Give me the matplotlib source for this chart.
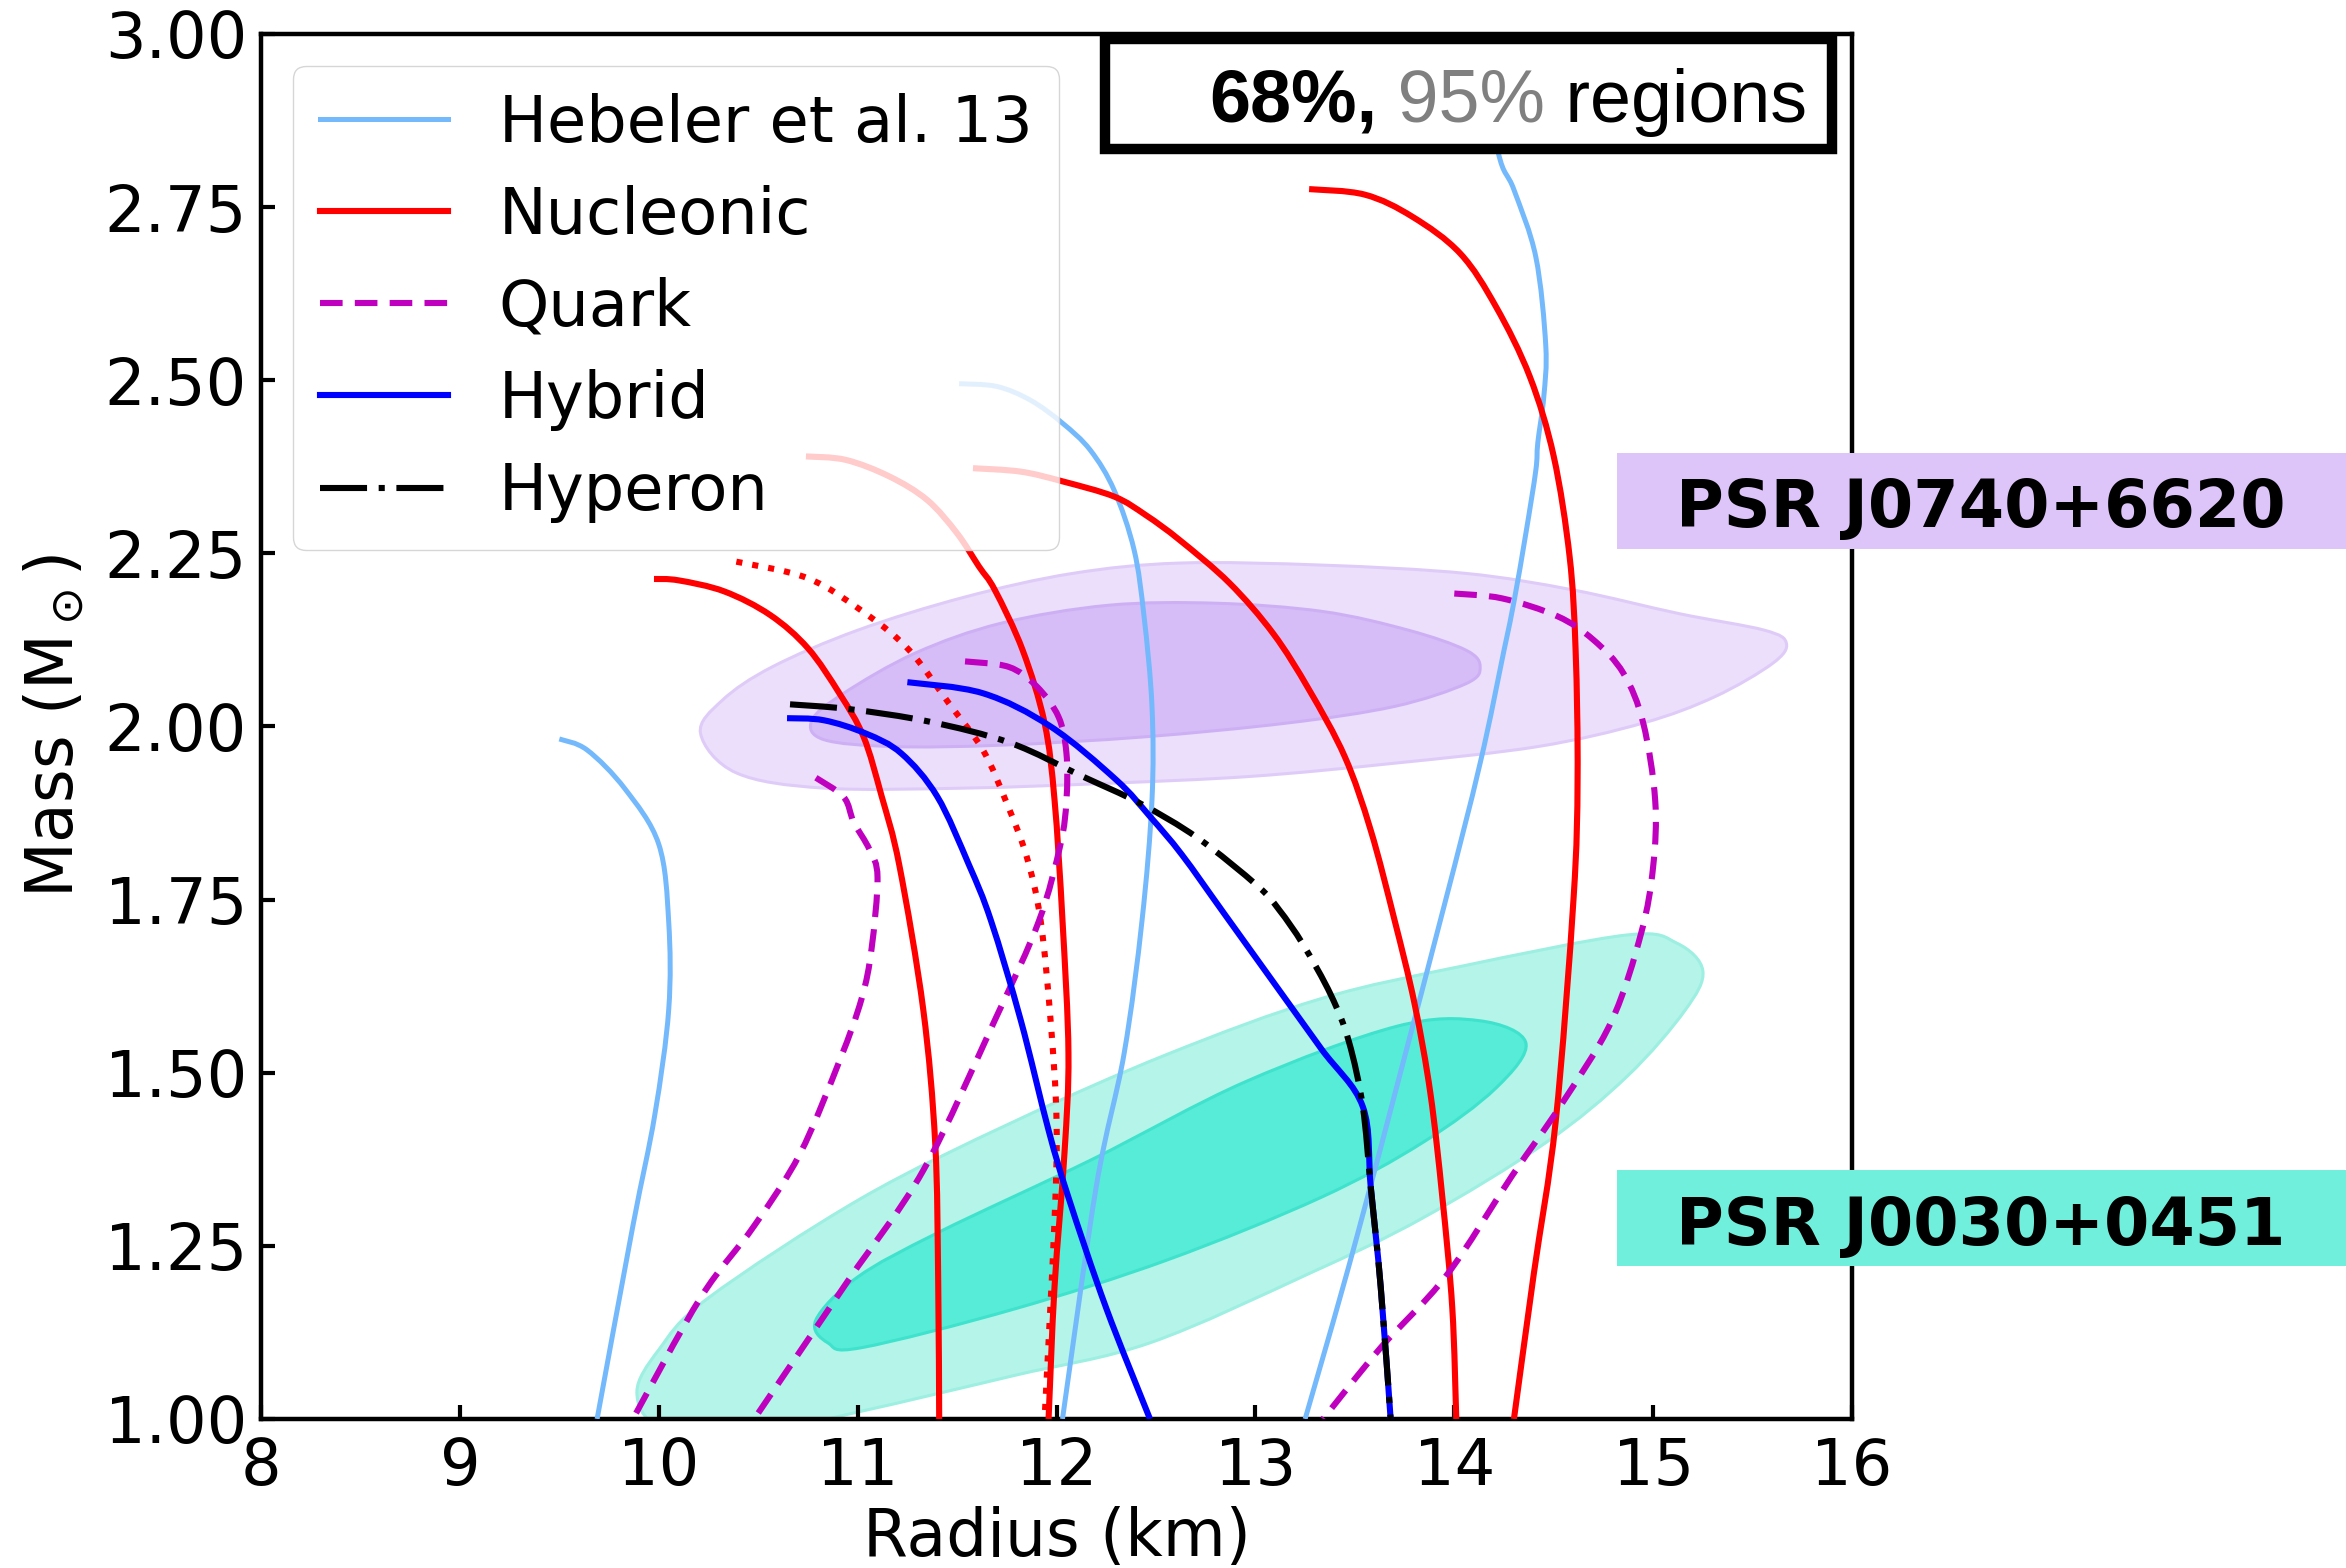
import numpy as np
import matplotlib
matplotlib.use("Agg")
import matplotlib.pyplot as plt
from matplotlib.patches import PathPatch, Rectangle
from matplotlib.path import Path
from matplotlib.lines import Line2D

# ---------------- mass-radius curves (R in km, M in solar masses) ----------------
hebeler_a_R = [9.50, 9.64, 9.83, 10.00, 10.05, 10.05, 9.98, 9.87, 9.69]
hebeler_a_M = [1.982, 1.966, 1.910, 1.830, 1.718, 1.591, 1.439, 1.279, 1.000]

hebeler_b_R = [11.51, 11.70, 11.87, 12.03, 12.17, 12.29, 12.39, 12.44, 12.48, 12.48, 12.43, 12.34, 12.20, 12.03]
hebeler_b_M = [2.495, 2.491, 2.471, 2.438, 2.399, 2.341, 2.255, 2.159, 2.029, 1.894, 1.720, 1.528, 1.336, 1.000]

hebeler_c_R = [13.25, 13.51, 13.93, 14.13, 14.25, 14.30, 14.36, 14.41, 14.42, 14.45, 14.46, 14.41, 14.30, 14.22, 14.12]
hebeler_c_M = [1.000, 1.263, 1.720, 1.947, 2.110, 2.180, 2.279, 2.370, 2.410, 2.476, 2.550, 2.678, 2.775, 2.830, 3.000]

nucleonic_a_R = [9.976, 10.10, 10.33, 10.56, 10.75, 10.91, 11.03, 11.12, 11.21, 11.33, 11.39, 11.405, 11.41]
nucleonic_a_M = [2.213, 2.211, 2.195, 2.161, 2.113, 2.047, 1.985, 1.900, 1.799, 1.591, 1.399, 1.200, 1.000]

nucleonic_b_R = [10.74, 10.94, 11.16, 11.35, 11.50, 11.61, 11.69, 11.83, 11.94, 11.99, 12.03, 12.06, 12.04, 11.99, 11.96]
nucleonic_b_M = [2.390, 2.385, 2.361, 2.327, 2.279, 2.231, 2.197, 2.110, 2.005, 1.894, 1.720, 1.528, 1.384, 1.191, 1.000]

nucleonic_c_R = [10.39, 10.75, 11.04, 11.26, 11.46, 11.63, 11.75, 11.85, 11.92, 11.97, 12.00, 11.99, 11.94]
nucleonic_c_M = [2.238, 2.214, 2.163, 2.110, 2.033, 1.966, 1.889, 1.812, 1.720, 1.576, 1.432, 1.287, 1.000]

nucleonic_d_R = [11.58, 11.82, 12.03, 12.29, 12.45, 12.62, 12.87, 13.09, 13.27, 13.45, 13.58, 13.70, 13.80, 13.88, 13.94, 13.99, 14.01]
nucleonic_d_M = [2.373, 2.368, 2.354, 2.332, 2.305, 2.269, 2.207, 2.134, 2.053, 1.956, 1.850, 1.720, 1.600, 1.470, 1.320, 1.160, 1.000]

nucleonic_e_R = [13.27, 13.55, 13.79, 14.03, 14.21, 14.38, 14.50, 14.58, 14.61, 14.62, 14.60, 14.51, 14.40, 14.30]
nucleonic_e_M = [2.776, 2.768, 2.736, 2.683, 2.606, 2.505, 2.390, 2.245, 2.110, 1.926, 1.753, 1.430, 1.210, 1.000]

quark_a_R = [10.79, 10.93, 10.98, 11.06, 11.10, 11.07, 11.02, 10.91, 10.71, 10.48, 10.21, 9.87]
quark_a_M = [1.926, 1.898, 1.862, 1.822, 1.782, 1.679, 1.607, 1.518, 1.383, 1.279, 1.175, 1.000]

quark_b_R = [11.54, 11.76, 11.90, 12.01, 12.05, 12.05, 12.02, 11.91, 11.69, 11.33, 10.95, 10.48]
quark_b_M = [2.094, 2.086, 2.058, 2.014, 1.961, 1.894, 1.830, 1.718, 1.576, 1.359, 1.199, 1.000]

quark_c_R = [14.00, 14.24, 14.52, 14.70, 14.85, 14.95, 15.01, 15.00, 14.94, 14.79, 14.54, 14.29, 13.96, 13.63, 13.34]
quark_c_M = [2.192, 2.185, 2.159, 2.125, 2.077, 2.005, 1.894, 1.798, 1.702, 1.574, 1.455, 1.351, 1.207, 1.103, 1.000]

hybrid_a_R = [10.645, 10.83, 11.04, 11.22, 11.40, 11.56, 11.67, 11.82, 11.96, 12.06, 12.25, 12.47]
hybrid_a_M = [2.012, 2.009, 1.990, 1.961, 1.899, 1.800, 1.720, 1.576, 1.417, 1.320, 1.160, 1.000]

hybrid_b_R = [11.25, 11.63, 11.97, 12.30, 12.47, 12.63, 12.84, 13.07, 13.33, 13.54, 13.58, 13.63, 13.68]
hybrid_b_M = [2.064, 2.048, 2.000, 1.923, 1.870, 1.815, 1.731, 1.639, 1.535, 1.451, 1.335, 1.191, 1.000]

hyperon_R = [10.66, 10.96, 11.36, 11.77, 12.13, 12.42, 12.71, 13.01, 13.12, 13.24, 13.38, 13.47, 13.54, 13.58, 13.63, 13.68]
hyperon_M = [2.032, 2.025, 2.007, 1.976, 1.928, 1.889, 1.839, 1.770, 1.735, 1.685, 1.612, 1.545, 1.451, 1.335, 1.191, 1.000]

# ---------------- credible regions (boundary points, R in km, M in solar masses) ----------------
j0740_95_R = [10.21, 10.32, 10.57, 11.00, 11.54, 12.08, 12.62, 13.34, 14.06, 14.60, 15.13, 15.56, 15.67,
              15.60, 15.31, 14.95, 14.42, 13.70, 12.98, 12.26, 11.54, 10.83, 10.39]
j0740_95_M = [1.990, 2.038, 2.086, 2.139, 2.187, 2.221, 2.236, 2.233, 2.221, 2.197, 2.163, 2.139, 2.120,
              2.091, 2.043, 2.005, 1.971, 1.947, 1.928, 1.918, 1.911, 1.911, 1.933]
j0740_68_R = [10.77, 10.93, 11.29, 11.72, 12.26, 12.80, 13.34, 13.77, 14.06, 14.13, 14.06, 13.70, 13.16,
              12.44, 11.72, 11.18, 10.83]
j0740_68_M = [2.009, 2.048, 2.106, 2.149, 2.175, 2.178, 2.166, 2.139, 2.110, 2.086, 2.062, 2.029, 2.005,
              1.985, 1.973, 1.971, 1.981]

j0030_95_R = [9.89, 10.00, 10.25, 11.02, 11.79, 12.56, 13.33, 14.04, 14.87, 15.12, 15.25, 15.16,
              14.87, 14.46, 13.84, 13.27, 12.47, 11.79, 11.00, 10.40, 10.00]
j0030_95_M = [1.039, 1.100, 1.175, 1.319, 1.430, 1.527, 1.607, 1.654, 1.699, 1.687, 1.647, 1.590,
              1.495, 1.399, 1.290, 1.210, 1.110, 1.063, 1.010, 0.975, 0.990]
j0030_68_R = [10.79, 11.00, 11.41, 12.18, 12.95, 13.71, 14.13, 14.36, 14.21, 13.84, 13.33, 12.56,
              11.79, 11.02, 10.85]
j0030_68_M = [1.143, 1.205, 1.270, 1.375, 1.487, 1.567, 1.575, 1.543, 1.478, 1.399, 1.320, 1.230,
              1.159, 1.103, 1.110]

x_ticks = [8, 9, 10, 11, 12, 13, 14, 15, 16]
y_ticks = [1.00, 1.25, 1.50, 1.75, 2.00, 2.25, 2.50, 2.75, 3.00]

# ---------------- styling ----------------
C_HEB = "#74b9fb"
C_NUC = "#ff0000"
C_QRK = "#bf00bf"
C_HYB = "#0000ff"
C_HYP = "#000000"
LW = 4.4
LW_HEB = 3.6
QUARK_LS = (0, (3.7, 2.0))
HYPERON_LS = (0, (7.7, 1.9, 1.0, 1.9))

plt.rcParams["font.family"] = ["DejaVu Sans"]
plt.rcParams["mathtext.fontset"] = "dejavusans"

fig = plt.figure(figsize=(23.46, 15.68), dpi=100)
ax = fig.add_axes([0.11125, 0.09503, 0.6782, 0.8833])
ax.set_xlim(8, 16)
ax.set_ylim(1, 3)

# isotropic frame (pixels of the plotting area) used for Bezier tangents
SX, SY = 1591.0 / 8.0, 1385.0 / 2.0


def _to_frame(r, m):
    return np.column_stack([(np.asarray(r, float) - 8.0) * SX, (np.asarray(m, float) - 1.0) * SY])


def _from_frame(v):
    v = np.array(v)
    v[:, 0] = v[:, 0] / SX + 8.0
    v[:, 1] = v[:, 1] / SY + 1.0
    return v


def smooth_path(r, m, closed=False):
    """Cubic Bezier path through the given points (Catmull-Rom tangents)."""
    P = _to_frame(r, m)
    k = len(P)
    verts = [P[0]]
    codes = [Path.MOVETO]
    nseg = k if closed else k - 1
    for i in range(nseg):
        if closed:
            p0, p1, p2, p3 = P[(i - 1) % k], P[i], P[(i + 1) % k], P[(i + 2) % k]
        else:
            p0 = P[max(i - 1, 0)]
            p1 = P[i]
            p2 = P[i + 1]
            p3 = P[min(i + 2, k - 1)]
        c1 = p1 + (p2 - p0) / 6.0
        c2 = p2 - (p3 - p1) / 6.0
        verts += [c1, c2, p2]
        codes += [Path.CURVE4] * 3
    return Path(_from_frame(verts), codes)


def region(r, m, face, edge, z):
    ax.add_patch(PathPatch(smooth_path(r, m, closed=True), facecolor=face, edgecolor=edge,
                           linewidth=2.2, zorder=z))


def curve(r, m, color, lw, ls="-", z=3):
    ax.add_patch(PathPatch(smooth_path(r, m), facecolor="none", edgecolor=color, linewidth=lw,
                           linestyle=ls, capstyle="butt", joinstyle="round", zorder=z))


region(j0740_95_R, j0740_95_M, "#ecdffb", "#dfcbf8", 1)
region(j0740_68_R, j0740_68_M, "#d7bdf8", "#cdb0f4", 1.1)
region(j0030_95_R, j0030_95_M, "#b4f4e9", "#9defe1", 1)
region(j0030_68_R, j0030_68_M, "#56ecd8", "#3fe2cc", 1.1)

curve(hebeler_a_R, hebeler_a_M, C_HEB, LW_HEB)
curve(hebeler_b_R, hebeler_b_M, C_HEB, LW_HEB)
curve(hebeler_c_R, hebeler_c_M, C_HEB, LW_HEB)

curve(nucleonic_a_R, nucleonic_a_M, C_NUC, LW)
curve(nucleonic_b_R, nucleonic_b_M, C_NUC, LW)
curve(nucleonic_c_R, nucleonic_c_M, C_NUC, LW, ls=":")
curve(nucleonic_d_R, nucleonic_d_M, C_NUC, LW)
curve(nucleonic_e_R, nucleonic_e_M, C_NUC, LW)

curve(quark_a_R, quark_a_M, C_QRK, LW, ls=QUARK_LS)
curve(quark_b_R, quark_b_M, C_QRK, LW, ls=QUARK_LS)
curve(quark_c_R, quark_c_M, C_QRK, LW, ls=QUARK_LS)

curve(hybrid_a_R, hybrid_a_M, C_HYB, LW, z=3.2)
curve(hybrid_b_R, hybrid_b_M, C_HYB, LW, z=3.2)

curve(hyperon_R, hyperon_M, C_HYP, LW, ls=HYPERON_LS, z=3.4)

# ---------------- axes cosmetics ----------------
ax.set_xticks(x_ticks)
ax.set_xticklabels([f"{v:d}" for v in x_ticks])
ax.set_yticks(y_ticks)
ax.set_yticklabels([f"{v:.2f}" for v in y_ticks])
ax.tick_params(direction="in", length=10, width=3, labelsize=46, top=False, right=False)
ax.tick_params(axis="y", pad=10)
ax.tick_params(axis="x", pad=12)
for sp in ax.spines.values():
    sp.set_linewidth(3.2)

ax.set_xlabel("Radius (km)", fontsize=46.5, labelpad=6)
ax.set_ylabel(r"Mass (M$_\odot$)", fontsize=46.5, labelpad=13)

handles = [
    Line2D([], [], color=C_HEB, lw=LW_HEB),
    Line2D([], [], color=C_NUC, lw=LW),
    Line2D([], [], color=C_QRK, lw=LW, ls=QUARK_LS),
    Line2D([], [], color=C_HYB, lw=LW),
    Line2D([], [], color=C_HYP, lw=LW, ls=HYPERON_LS),
]
labels = ["Hebeler et al. 13", "Nucleonic", "Quark", "Hybrid", "Hyperon"]
leg = ax.legend(handles, labels, loc="upper left", fontsize=46, handlelength=2.0,
                labelspacing=0.47, borderpad=0.42, framealpha=0.8)
leg.set_zorder(5)

# ---------------- confidence-level key in the top right ----------------
ax.add_patch(Rectangle((0.5302, 0.917), 0.9874 - 0.5302, 0.9964 - 0.917, transform=ax.transAxes,
                       facecolor="white", edgecolor="black", linewidth=7.5, zorder=6, clip_on=False))

renderer = fig.canvas.get_renderer()
inv = ax.transAxes.inverted()
x_end = 0.9717
y_base = 0.9367
parts = [("68%,", "black", "bold"), (" 95%", "#808080", "normal"), (" regions", "black", "normal")]
for txt, col, wt in reversed(parts):
    t = ax.text(x_end, y_base, txt, transform=ax.transAxes, ha="right", va="baseline",
                fontsize=53, color=col, fontweight=wt, family=["Liberation Sans", "DejaVu Sans"],
                zorder=7)
    bb = t.get_window_extent(renderer)
    x_end = inv.transform((bb.x0, bb.y0))[0]

# ---------------- pulsar labels on the right ----------------
fig.add_artist(Rectangle((0.6893, 0.6499), 0.3107, 0.0612, transform=fig.transFigure,
                         facecolor="#ddc5fa", edgecolor="none", zorder=1))
fig.add_artist(Rectangle((0.6893, 0.1926), 0.3107, 0.0612, transform=fig.transFigure,
                         facecolor="#70f0dc", edgecolor="none", zorder=1))
fig.text(0.7144, 0.6639, "PSR J0740+6620", fontsize=47, fontweight="bold", color="black",
         ha="left", va="baseline", zorder=4)
fig.text(0.7144, 0.2057, "PSR J0030+0451", fontsize=47, fontweight="bold", color="black",
         ha="left", va="baseline", zorder=4)

fig.savefig("out.png", dpi=100)
